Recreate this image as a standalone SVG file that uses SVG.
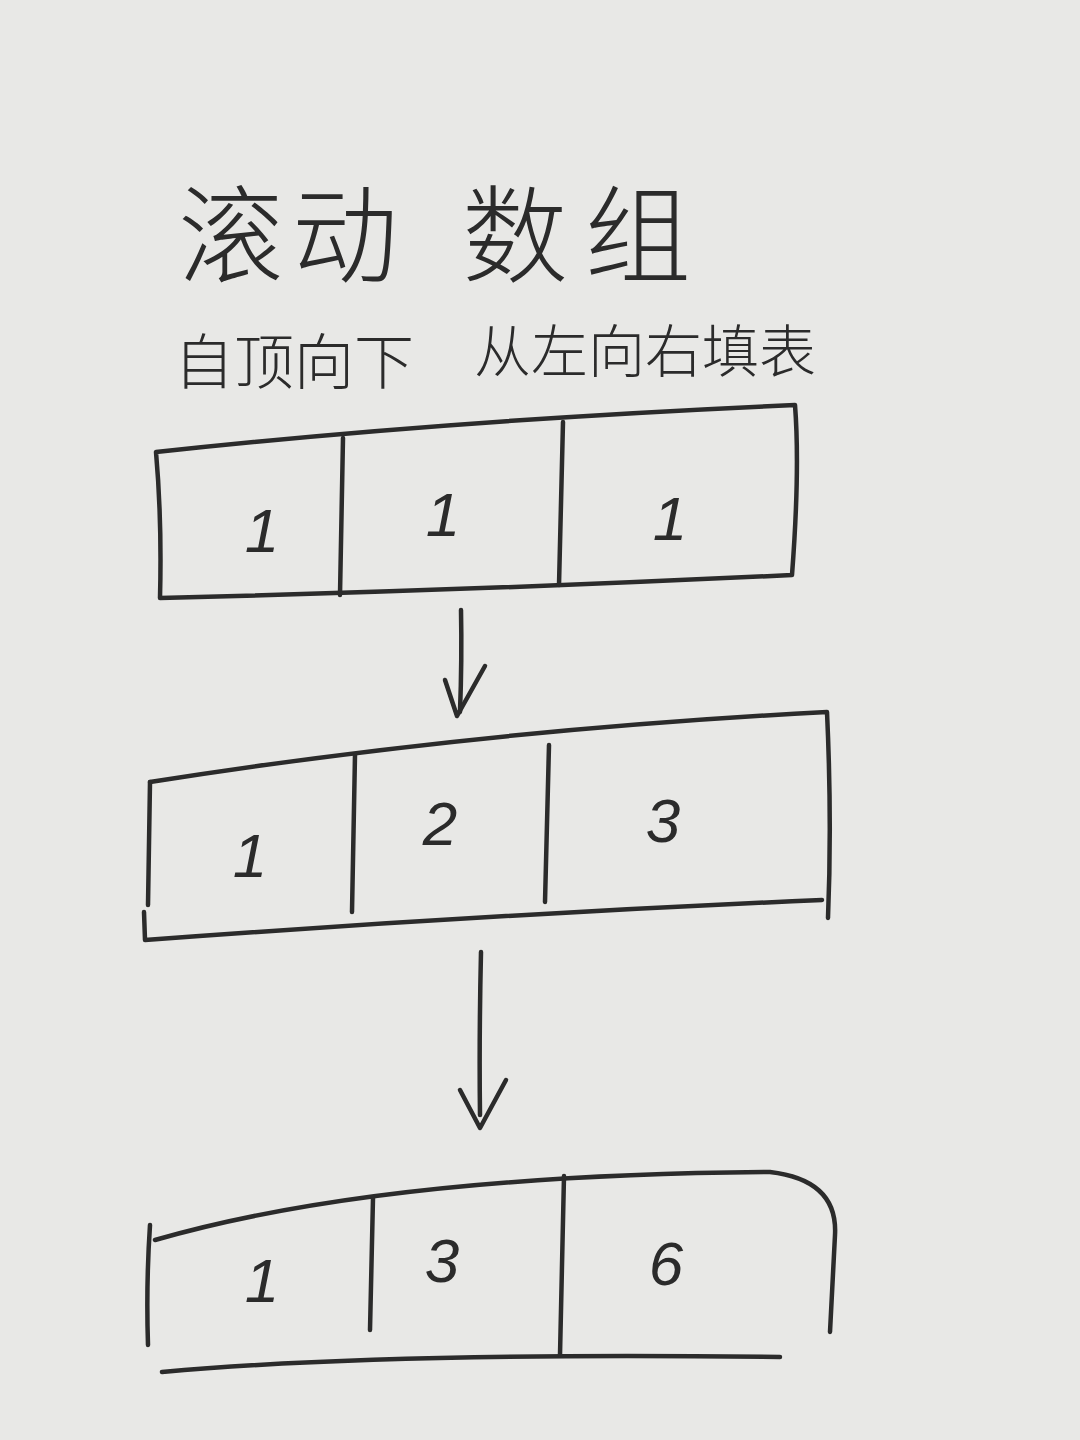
<svg xmlns="http://www.w3.org/2000/svg" width="1080" height="1440" viewBox="0 0 1080 1440">
<style>
.ln{fill:none;stroke:#2b2b2b;stroke-width:4.5;stroke-linecap:round;stroke-linejoin:round}
.hand{font-family:"Noto Sans CJK SC","Noto Sans",sans-serif;fill:#2b2b2b;font-weight:300}
.num{font-family:"Liberation Sans","DejaVu Sans",sans-serif;fill:#2b2b2b;font-size:62px;text-anchor:middle;font-style:italic}
</style>
<rect width="1080" height="1440" fill="#e8e8e6"/>
<g id="title">
<text class="hand" x="178 292 462 585" y="274" font-size="106">滚动数组</text>
</g>
<g id="subtitle">
<text class="hand" x="174" y="384" font-size="60">自顶向下</text>
<text class="hand" x="474" y="372" font-size="57">从左向右填表</text>
</g>
<g id="row1">
<path class="ln" d="M156 452 Q450 420 795 405 Q800 470 792 575 Q480 590 160 598 Q162 520 156 452 Z"/>
<path class="ln" d="M343 438 L340 595"/>
<path class="ln" d="M563 422 L559 585"/>
<text class="num" x="262" y="552">1</text>
<text class="num" x="443" y="536">1</text>
<text class="num" x="670" y="540">1</text>
</g>
<g id="row2">
<path class="ln" d="M150 782 Q480 730 827 712 Q832 820 828 918"/>
<path class="ln" d="M150 782 L148 905"/>
<path class="ln" d="M144 912 L145 940 Q480 915 822 900"/>
<path class="ln" d="M355 755 L352 912"/>
<path class="ln" d="M549 745 L545 902"/>
<text class="num" x="250" y="877">1</text>
<text class="num" x="440" y="845">2</text>
<text class="num" x="663" y="842">3</text>
</g>
<g id="row3">
<path class="ln" d="M155 1240 Q380 1175 770 1172 Q838 1180 835 1235 L830 1332"/>
<path class="ln" d="M150 1225 Q146 1285 148 1345"/>
<path class="ln" d="M162 1372 Q380 1352 780 1357"/>
<path class="ln" d="M373 1198 L370 1330"/>
<path class="ln" d="M564 1176 L560 1355"/>
<text class="num" x="262" y="1302">1</text>
<text class="num" x="442" y="1282">3</text>
<text class="num" x="666" y="1285">6</text>
</g>
<g id="connectors">
<path class="ln" d="M461 610 Q462 660 460 712"/>
<path class="ln" d="M445 680 L457 716 L485 666"/>
<path class="ln" d="M481 952 Q479 1040 480 1115"/>
<path class="ln" d="M460 1090 L480 1128 L506 1080"/>
</g>
</svg>
